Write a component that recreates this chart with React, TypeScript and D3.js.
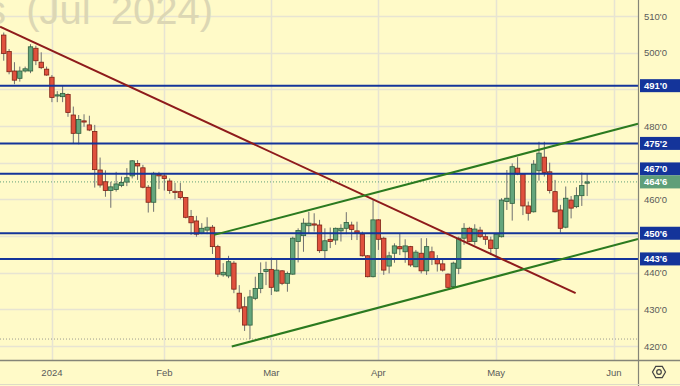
import React from "react";
import * as d3 from "d3";

// daily candles, Dec 18 2023 .. May 24 2024 (trading days only)
const opens = [
  504.8, 500.3, 495, 493, 495, 495, 501.2, 497.4, 495.5, 493.3,
  488.3, 488, 488.6, 483, 478, 481.4, 480.3, 478.5, 468, 464.8,
  462.4, 462.7, 463.8, 464.7, 466.4, 469.8, 468.6, 463.3, 459.2, 466.8,
  466.4, 465, 462.2, 462.1, 460.5, 455.3, 454.1, 450.7, 451.6, 452.4,
  447.1, 439.4, 439.1, 442.6, 434.4, 430.7, 425.7, 433, 435.7, 440.3,
  440.9, 435, 440.5, 437.1, 439.6, 448.5, 450.1, 452.8, 453.3, 453,
  446, 449.1, 448.9, 451.4, 452.1, 453, 451.4, 450.5, 444.6, 438.9,
  454.4, 449.4, 441.8, 445.3, 447.1, 445.7, 447.1, 441.6, 445.3, 440.5,
  445.7, 443.7, 442.4, 439.6, 436.2, 441.2, 449.4, 452.1, 448.5, 451.6,
  449.8, 448.9, 446.6, 449.8, 459.4, 458.9, 468.5, 466.9, 458.2, 456.6,
  467.8, 471.5, 467.5, 462.1, 457.1, 452.4, 459.8, 458, 461, 464.4,
];
const highs = [
  505.5, 501, 497.4, 496.2, 496.2, 502.3, 501.9, 500.1, 496.2, 493.9,
  489.5, 490.9, 488.9, 485.3, 483, 483.2, 482.8, 480.3, 471.4, 467.9,
  464.8, 467.5, 466.2, 468.5, 470.7, 470.7, 469.4, 463.9, 467.5, 467.5,
  467.1, 465.7, 464.5, 464.5, 460.6, 457.1, 455.5, 453.5, 455.1, 453,
  447.6, 442.6, 444.6, 443.2, 436.6, 433.4, 435.3, 438.9, 442.8, 443,
  444.1, 443.9, 440.7, 440.3, 449.8, 452.1, 454.8, 456.6, 456.2, 454.4,
  452.1, 452.3, 452.3, 453.2, 456.5, 453.9, 453.9, 451.2, 444.8, 459.8,
  454.6, 449.8, 445.7, 448, 450.7, 449.1, 447.3, 446.2, 449.4, 449.4,
  447.1, 444.8, 443.9, 439.8, 443, 449.8, 453.5, 452.5, 453.2, 452.5,
  450.7, 449.8, 450.7, 460.3, 468, 469.8, 471.5, 467.1, 459.4, 470.7,
  475.7, 475.7, 470, 465.3, 458.5, 463.5, 460.9, 463.3, 467.3, 467.1,
];
const lows = [
  497.8, 494.1, 491.4, 492.1, 494.6, 494.4, 496.6, 495.5, 493.7, 486.5,
  486.5, 486.5, 482.5, 475.3, 475, 479.8, 478.6, 463.2, 463.2, 460.7,
  457.7, 462.1, 463.3, 463.6, 465.7, 465.3, 463, 456.4, 456.6, 462.8,
  462.4, 461.5, 460, 460, 454.8, 450.3, 449.8, 450.5, 450.5, 445.1,
  438.8, 438.9, 438.5, 434.4, 429.2, 424.1, 421.9, 432.5, 434.4, 436.6,
  433.9, 434.8, 436.6, 434.8, 439.4, 442.8, 445.7, 450.7, 451.2, 445.4,
  443.7, 446.7, 447.6, 448.5, 450.5, 448.9, 448.9, 444.4, 438.7, 438.7,
  446.2, 439.4, 439.8, 442.7, 444.8, 442.7, 441.6, 441.5, 439.8, 439.4,
  442.1, 440.3, 440.3, 435.7, 435.7, 439.6, 447.6, 448.3, 447.6, 449.4,
  447.6, 444.8, 443.9, 449.6, 457.1, 454.2, 466.6, 455.7, 454.2, 456.4,
  465.1, 466.2, 461.6, 456.4, 450.9, 452.1, 454.8, 457.6, 458.2, 460.9,
];
const closes = [
  499.8, 494.8, 492.5, 495, 495.6, 501.6, 497.8, 495.9, 493.9, 487.8,
  488.5, 488.9, 483.7, 478, 481.8, 481.2, 478.9, 468.1, 463.9, 462.4,
  463.4, 464.2, 464.6, 465.9, 470.5, 469.1, 463.3, 459.2, 467.1, 466.4,
  465.7, 462.4, 462, 460.5, 455.1, 453.6, 450.5, 452.1, 452.4, 447.1,
  439.6, 440.1, 443, 435.5, 430.3, 425.7, 433.4, 435.7, 439.8, 440.9,
  436, 440.7, 437.1, 439.8, 449.4, 451.5, 453.5, 453.5, 453.1, 446,
  448.7, 448.5, 452.1, 452.1, 453.7, 451.8, 450.9, 444.6, 438.9, 454.4,
  449.1, 440.7, 444.6, 447.3, 446.5, 447.3, 442.1, 445.6, 440.5, 447.1,
  443.6, 442.4, 440.7, 436, 442.6, 449.4, 452.1, 448.5, 451.9, 449.8,
  449.1, 446.6, 450.5, 459.8, 460.3, 468.9, 466.9, 458.2, 456.2, 469.6,
  472.6, 467.3, 462.4, 456.6, 452.1, 460.3, 457.6, 461, 463.8, 464.75,
];

const monthLabels = ["2024", "Feb", "Mar", "Apr", "May", "Jun"];
const monthStartIndex = [9, 30, 50, 70, 92, 114];

const priceTicks = [420, 430, 440, 450, 460, 470, 480, 490, 500, 510];
const levelPrices = [491, 475.25, 467, 450.75, 443.75];

// trend lines as [barIndex, price] pairs
const redTrend = [[-0.7, 507.1], [106.85, 434.4]];
const channelUpper = [[39.3, 450.3], [118.5, 480.6]];
const channelLower = [[42.6, 419.85], [118.5, 449.2]];

const W = 680;
const H = 386;
const plotRight = 638;
const plotBottom = 360;

const BG = "#fffac8";
const GRID = "#e7e4d2";
const NAVY = "#14349a";
const FONT = "'Liberation Sans', Arial, sans-serif";

const fmt = (v: number) => {
  const whole = Math.floor(v);
  return `${whole}'${Math.round((v - whole) * 8)}`;
};

export default function App() {
  const x = d3.scaleLinear().domain([-0.7, 118.5]).range([0, plotRight]);
  const y = d3.scaleLinear().domain([420, 510]).range([346, 16]);
  const line = d3
    .line<number[]>()
    .x((d) => x(d[0]))
    .y((d) => y(d[1]));

  const lastPrice = closes[closes.length - 1];
  const minLow = d3.min(lows) as number;
  const bodyW = 4.4;

  // right axis boxes, last price keeps its place, others move out of the way
  const boxH = 13;
  const lastY = y(lastPrice);
  const boxes = levelPrices.map((p) => {
    let by = y(p);
    if (Math.abs(by - lastY) < boxH) by = by < lastY ? lastY - boxH : lastY + boxH;
    return { p, y: by };
  });
  const boxYs = boxes.map((b) => b.y).concat([lastY]);
  // tick labels hidden behind a box are not drawn
  const visibleTicks = priceTicks.filter((t) => boxYs.every((by) => Math.abs(y(t) - by) >= boxH));

  const hex = d3.range(6).map((k) => {
    const a = (Math.PI / 3) * k;
    return [659 + 6.5 * Math.cos(a), 372 + 6.5 * Math.sin(a)];
  });

  return (
    <div style={{ position: "fixed", left: 0, top: 0 }}>
      <svg width={W} height={H} style={{ display: "block" }}>
        <rect width={W} height={H} fill={BG} />

        {/* grid */}
        {priceTicks.map((t) => (
          <line key={t} x1={0} x2={plotRight} y1={Math.round(y(t)) + 0.5} y2={Math.round(y(t)) + 0.5} stroke={GRID} strokeWidth={1.5} />
        ))}
        {monthStartIndex.map((m) => (
          <line key={m} x1={Math.round(x(m)) + 0.5} x2={Math.round(x(m)) + 0.5} y1={0} y2={plotBottom} stroke={GRID} strokeWidth={1.5} />
        ))}

        {/* watermark title */}
        <text x={213} y={24} textAnchor="end" fontFamily={FONT} fontSize={40} fill="#dcd7b4" wordSpacing={9}>
          s (Jul 2024)
        </text>

        {/* last price and lowest low dotted lines */}
        <line x1={0} x2={plotRight} y1={y(lastPrice)} y2={y(lastPrice)} stroke="#5f9f79" strokeWidth={1} strokeDasharray="1,2" />
        <line x1={0} x2={plotRight} y1={y(minLow)} y2={y(minLow)} stroke="#9a9a90" strokeWidth={1} strokeDasharray="1,2" />

        {/* candles */}
        {closes.map((c, i) => {
          const o = opens[i];
          const up = c >= o;
          const cx = x(i);
          const top = y(Math.max(o, c));
          const bot = y(Math.min(o, c));
          return (
            <g key={i}>
              <line x1={cx} x2={cx} y1={y(highs[i])} y2={y(lows[i])} stroke="#707070" strokeWidth={1} />
              <rect
                x={cx - bodyW / 2}
                y={top}
                width={bodyW}
                height={Math.max(bot - top, 1.2)}
                fill={up ? "#64a57c" : "#e0513d"}
                stroke={up ? "#2f5f3d" : "#7d2114"}
                strokeWidth={0.8}
              />
            </g>
          );
        })}

        {/* horizontal levels */}
        {levelPrices.map((p) => (
          <line key={p} x1={0} x2={plotRight} y1={y(p)} y2={y(p)} stroke={NAVY} strokeWidth={2} />
        ))}

        {/* trend lines */}
        <path d={line(redTrend) as string} stroke="#8e1b1b" strokeWidth={2} fill="none" />
        <path d={line(channelUpper) as string} stroke="#2b7a1f" strokeWidth={2} fill="none" />
        <path d={line(channelLower) as string} stroke="#2b7a1f" strokeWidth={2} fill="none" />

        {/* axes area */}
        <rect x={plotRight} y={0} width={W - plotRight} height={H} fill={BG} />
        <rect x={0} y={plotBottom} width={W} height={H - plotBottom} fill={BG} />
        <line x1={plotRight + 0.5} x2={plotRight + 0.5} y1={0} y2={H} stroke="#858578" strokeWidth={1.2} />
        <line x1={0} x2={W} y1={plotBottom + 0.5} y2={plotBottom + 0.5} stroke="#858578" strokeWidth={1.5} />
        <line x1={0} x2={W} y1={384.5} y2={384.5} stroke="#dedbc6" strokeWidth={1} />

        {visibleTicks.map((t) => (
          <text key={t} x={644} y={y(t) + 3.5} fontFamily={FONT} fontSize={9.5} fill="#5a5a5a">
            {fmt(t)}
          </text>
        ))}

        {monthLabels.map((m, k) => (
          <text key={m} x={x(monthStartIndex[k])} y={376} textAnchor="middle" fontFamily={FONT} fontSize={9.5} fill="#5a5a5a">
            {m}
          </text>
        ))}

        {boxes.map((b) => (
          <g key={b.p}>
            <rect x={640} y={b.y - boxH / 2} width={40} height={boxH} fill={NAVY} />
            <text x={644} y={b.y + 3.5} fontFamily={FONT} fontSize={9.5} fontWeight="bold" fill="#ffffff">
              {fmt(b.p)}
            </text>
          </g>
        ))}
        <rect x={640} y={lastY - boxH / 2} width={40} height={boxH} fill="#5f9f79" />
        <text x={644} y={lastY + 3.5} fontFamily={FONT} fontSize={9.5} fontWeight="bold" fill="#ffffff">
          {fmt(lastPrice)}
        </text>

        {/* settings icon */}
        <polygon points={hex.map((p) => p.join(",")).join(" ")} fill="none" stroke="#444" strokeWidth={1.2} />
        <circle cx={659} cy={372} r={2.3} fill="none" stroke="#444" strokeWidth={1.2} />
      </svg>
    </div>
  );
}
